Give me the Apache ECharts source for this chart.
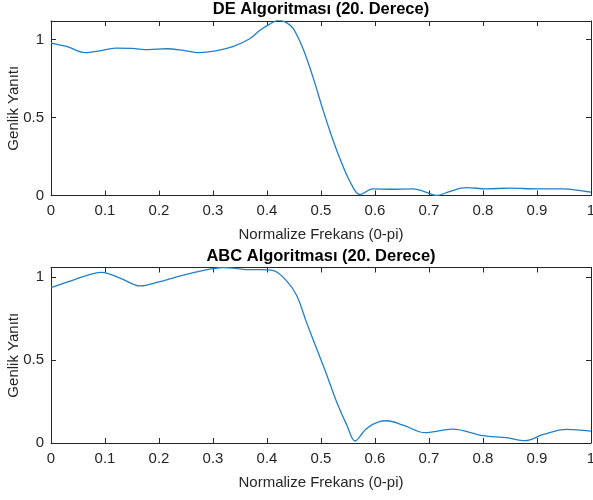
<!DOCTYPE html>
<html>
<head>
<meta charset="utf-8">
<script src="https://cdn.jsdelivr.net/npm/echarts@6/dist/echarts.min.js"></script>
<style>html,body{margin:0;padding:0;background:#fff}#c{width:593px;height:500px}</style>
</head>
<body>
<div id="c"></div>
<script>
var titles = ['DE Algoritması (20. Derece)', 'ABC Algoritması (20. Derece)'];
var xName = 'Normalize Frekans (0-pi)';
var yName = 'Genlik Yanıtı';
var xTicks = [0, 0.1, 0.2, 0.3, 0.4, 0.5, 0.6, 0.7, 0.8, 0.9, 1];
var yTicks = [0, 0.5, 1];

var deX = [0, 0.03, 0.063, 0.09, 0.119, 0.15, 0.18, 0.214, 0.245, 0.273, 0.305, 0.338, 0.368, 0.387, 0.405, 0.421, 0.436, 0.449, 0.467, 0.486, 0.501, 0.517, 0.535, 0.554, 0.572, 0.596, 0.628, 0.671, 0.69, 0.714, 0.739, 0.769, 0.806, 0.85, 0.9, 0.949, 0.986, 1.0];
var deY = [0.978, 0.955, 0.917, 0.928, 0.946, 0.944, 0.936, 0.942, 0.932, 0.917, 0.928, 0.957, 1.006, 1.06, 1.1, 1.124, 1.11, 1.07, 0.94, 0.75, 0.579, 0.408, 0.237, 0.087, 0.006, 0.042, 0.04, 0.043, 0.027, 0.0, 0.027, 0.05, 0.043, 0.047, 0.043, 0.043, 0.028, 0.022];

var abcX = [0, 0.04, 0.094, 0.13, 0.165, 0.2, 0.233, 0.27, 0.3, 0.32, 0.345, 0.365, 0.387, 0.412, 0.436, 0.455, 0.473, 0.492, 0.511, 0.529, 0.548, 0.563, 0.584, 0.609, 0.622, 0.652, 0.693, 0.744, 0.8, 0.843, 0.878, 0.912, 0.955, 1.0];
var abcY = [0.936, 0.98, 1.028, 0.99, 0.946, 0.97, 1.0, 1.03, 1.05, 1.057, 1.05, 1.044, 1.044, 1.038, 0.978, 0.888, 0.728, 0.567, 0.407, 0.247, 0.106, 0.012, 0.086, 0.13, 0.134, 0.108, 0.062, 0.084, 0.044, 0.032, 0.014, 0.052, 0.082, 0.072];

var yMax = [1.12, 1.057];

function pairs(xs, ys) { return xs.map(function (x, i) { return [x, ys[i]]; }); }

var txt = '#262626';
var font = 'Liberation Sans, Arial, Helvetica, sans-serif';
var grids = [
  { left: 51, top: 21, width: 540, height: 174.5, outerBoundsMode: 'none', containLabel: false },
  { left: 51, top: 267.5, width: 540, height: 175.5, outerBoundsMode: 'none', containLabel: false }
];
var axLine = { show: true, onZero: false, lineStyle: { color: txt, width: 1 } };
var tick = { show: true, inside: true, length: 5, lineStyle: { color: txt } };

var xAxes = [], yAxes = [];
[0, 1].forEach(function (g) {
  xAxes.push({
    type: 'value', gridIndex: g, min: 0, max: 1, interval: 0.1, position: 'bottom',
    axisLine: axLine, axisTick: tick, splitLine: { show: false },
    axisLabel: { color: txt, fontSize: 15, fontFamily: font, margin: 8,
      formatter: function (v) { var r = Math.round(v * 10) / 10; return xTicks.indexOf(r) >= 0 ? String(r) : ''; } },
    name: xName, nameLocation: 'middle', nameGap: 32, nameMoveOverlap: false,
    nameTextStyle: { color: txt, fontSize: 15, fontFamily: font }
  });
  xAxes.push({
    type: 'value', gridIndex: g, min: 0, max: 1, interval: 0.1, position: 'top',
    axisLine: axLine, axisTick: tick, splitLine: { show: false }, axisLabel: { show: false }
  });
  yAxes.push({
    type: 'value', gridIndex: g, min: 0, max: yMax[g], interval: 0.5, position: 'left',
    axisLine: axLine, axisTick: tick, splitLine: { show: false },
    axisLabel: { color: txt, fontSize: 15, fontFamily: font, margin: 7, showMaxLabel: false,
      formatter: function (v) { var r = Math.round(v * 10) / 10; return yTicks.indexOf(r) >= 0 ? String(r) : ''; } },
    name: yName, nameLocation: 'middle', nameGap: 30, nameMoveOverlap: false,
    nameTextStyle: { color: txt, fontSize: 15, fontFamily: font }
  });
  yAxes.push({
    type: 'value', gridIndex: g, min: 0, max: yMax[g], interval: 0.5, position: 'right',
    axisLine: axLine, axisTick: tick, splitLine: { show: false }, axisLabel: { show: false }
  });
});

var chart = echarts.init(document.getElementById('c'), null, { renderer: 'canvas' });
chart.setOption({
  animation: false,
  backgroundColor: '#fff',
  title: [
    { text: titles[0], left: 321, top: 1, textAlign: 'center', padding: 0,
      textStyle: { color: '#000', fontSize: 16.5, fontWeight: 'bold', fontFamily: font } },
    { text: titles[1], left: 321, top: 248, textAlign: 'center', padding: 0,
      textStyle: { color: '#000', fontSize: 16.5, fontWeight: 'bold', fontFamily: font } }
  ],
  grid: grids,
  xAxis: xAxes,
  yAxis: yAxes,
  series: [
    { type: 'line', xAxisIndex: 0, yAxisIndex: 0, data: pairs(deX, deY), smooth: 0.35,
      showSymbol: false, lineStyle: { color: '#1f80c8', width: 1.3 }, itemStyle: { color: '#1f80c8' } },
    { type: 'line', xAxisIndex: 2, yAxisIndex: 2, data: pairs(abcX, abcY), smooth: 0.35,
      showSymbol: false, lineStyle: { color: '#1f80c8', width: 1.3 }, itemStyle: { color: '#1f80c8' } }
  ]
});
</script>
</body>
</html>
